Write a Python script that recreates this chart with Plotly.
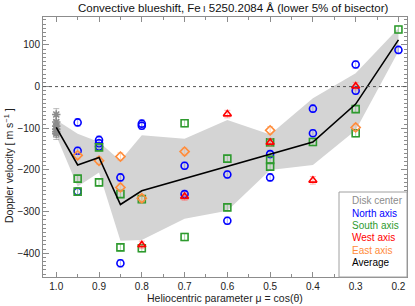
import plotly.graph_objects as go

# ---------------- data ----------------
mu_grid = [1.0, 0.95, 0.9, 0.85, 0.8, 0.7, 0.6, 0.5, 0.4, 0.3, 0.2]
band_upper = [-80, -113, -133, -178, -117, -125, -80, -115, -28, 32, 140]
band_lower = [-118, -240, -206, -370, -368, -317, -298, -200, -188, -105, 85]
average = [-98, -188, -170, -283, -250, -221, -192, -163, -133, -42, 112]

disk_mu = [1.0, 1.0, 1.0, 1.0, 1.0, 1.0]
disk_v = [-67, -85, -95, -102, -108, -113]

north_mu = [0.95, 0.95, 0.95, 0.9, 0.9, 0.9, 0.85, 0.85, 0.8, 0.8, 0.7, 0.7, 0.6, 0.6, 0.5, 0.5, 0.4, 0.4, 0.3, 0.3, 0.2]
north_v = [-86, -154, -252, -128, -136, -144, -218, -424, -89, -94, -190, -258, -211, -322, -162, -218, -53, -112, 53, -10, 88]

south_mu = [0.95, 0.95, 0.9, 0.9, 0.85, 0.85, 0.8, 0.8, 0.7, 0.7, 0.6, 0.6, 0.5, 0.5, 0.5, 0.4, 0.3, 0.3, 0.2]
south_v = [-221, -252, -146, -230, -258, -386, -270, -388, -88, -361, -173, -290, -134, -176, -192, -133, -54, -112, 137]

west_mu = [0.8, 0.7, 0.6, 0.5, 0.4, 0.3]
west_v = [-380, -264, -66, -134, -225, 1]

east_mu = [0.95, 0.9, 0.85, 0.85, 0.8, 0.7, 0.5, 0.3]
east_v = [-165, -178, -168, -242, -268, -156, -105, -98]

x_tickvals = [1.0, 0.9, 0.8, 0.7, 0.6, 0.5, 0.4, 0.3, 0.2]
y_tickvals = [-400, -300, -200, -100, 0, 100]
y_ticktext = ["\u2212400", "\u2212300", "\u2212200", "\u2212100", "0", "100"]

legend_names = ["Disk center", "North axis", "South axis", "West axis", "East axis", "Average"]

# ---------------- figure ----------------
FONT = "Liberation Sans, Arial, Helvetica, sans-serif"
GRAY = "#8c8c8c"
BLUE = "#0000ff"
GREEN = "#2e9a2e"
RED = "#ff0000"
ORANGE = "#ff8c3a"

W, H = 415, 306
L, R, T, B = 43, 8, 17, 29
PW, PH = W - L - R, H - T - B


def px(xp):
    return (xp - L) / PW


def py(yp):
    return (H - B - yp) / PH


fig = go.Figure()

fig.add_trace(go.Scatter(x=mu_grid, y=band_upper, mode="lines", line=dict(width=0),
                         showlegend=False, hoverinfo="skip"))
fig.add_trace(go.Scatter(x=mu_grid, y=band_lower, mode="lines", line=dict(width=0),
                         fill="tonexty", fillcolor="#d4d4d4", showlegend=False, hoverinfo="skip"))

series = [
    (disk_mu, disk_v, GRAY, "asterisk-open", "rgba(140,140,140,0.6)", 14),
    (north_mu, north_v, BLUE, "circle-open", "rgba(120,120,255,0.6)", 9),
    (south_mu, south_v, GREEN, "square-open", "rgba(120,200,120,0.6)", 9),
    (west_mu, west_v, RED, "triangle-up-open", "rgba(255,120,120,0.6)", 9),
    (east_mu, east_v, ORANGE, "diamond-open", "rgba(255,180,130,0.6)", 9),
]
for (x, y, color, symbol, ecol, err), name in zip(series, legend_names):
    fig.add_trace(go.Scatter(
        x=x, y=y, mode="markers", name=name, showlegend=False,
        marker=dict(symbol=symbol, size=7, color=color, line=dict(color=color, width=1.6)),
        error_y=dict(type="constant", value=err, color=ecol, thickness=1, width=3),
    ))

fig.add_trace(go.Scatter(x=mu_grid, y=average, mode="lines", name="Average", showlegend=False,
                         line=dict(color="black", width=1.6)))

fig.add_hline(y=0, line=dict(color="#555555", width=1, dash="dot"))

axis_common = dict(
    showline=True, linecolor=GRAY, linewidth=1, mirror="allticks",
    ticks="inside", tickcolor=GRAY, showgrid=False, zeroline=False, automargin=False,
    tickfont=dict(family=FONT, size=10, color="#222222"),
)

fig.update_xaxes(
    range=[1.031, 0.18], tickvals=x_tickvals, tickformat=".1f", ticklen=5,
    minor=dict(dtick=0.05, ticklen=3, ticks="inside", tickcolor=GRAY),
    **axis_common,
)
fig.update_yaxes(
    range=[-457, 167], tickvals=y_tickvals, ticktext=y_ticktext, ticklen=6,
    minor=dict(dtick=10, ticklen=3, ticks="inside", tickcolor=GRAY),
    **axis_common,
)

# pixel-coordinate overlay axes for the hand-drawn legend keys
fig.update_layout(
    xaxis2=dict(overlaying="x", range=[L, W - R], visible=False, fixedrange=True),
    yaxis2=dict(overlaying="y", range=[H - B, T], visible=False, fixedrange=True),
)

lx0, lx1, ly0, ly1 = 339, 407, 192, 277
fig.add_shape(type="rect", xref="paper", yref="paper", x0=px(lx0), x1=px(lx1), y0=py(ly1), y1=py(ly0),
              line=dict(color="#a0a0a0", width=1), fillcolor="white", layer="above")

row_y = [201, 213, 225, 237.5, 250, 262.5]
key_x = 347
for i, name in enumerate(legend_names):
    if i < 5:
        _, _, color, symbol, _, _ = series[i]
        fig.add_trace(go.Scatter(x=[key_x], y=[row_y[i]], xaxis="x2", yaxis="y2", mode="markers",
                                 showlegend=False, hoverinfo="skip",
                                 marker=dict(symbol=symbol, size=6, color=color,
                                             line=dict(color=color, width=1.3))))
    else:
        color = "black"
        fig.add_trace(go.Scatter(x=[key_x - 4, key_x + 5], y=[row_y[i], row_y[i]], xaxis="x2", yaxis="y2",
                                 mode="lines", showlegend=False, hoverinfo="skip",
                                 line=dict(color="black", width=1.6)))
    fig.add_annotation(x=px(352), y=py(row_y[i]), xref="paper", yref="paper", text=name, showarrow=False,
                       xanchor="left", yanchor="middle", xshift=-2,
                       font=dict(family=FONT, size=10, color=color))

# axis titles and title as annotations
fig.add_annotation(x=px(8), y=py(166), xref="paper", yref="paper",
                   text="Doppler velocity [ m s<sup>\u22121</sup> ]",
                   textangle=-90, showarrow=False, xanchor="center", yanchor="middle",
                   font=dict(family=FONT, size=10.5, color="#222222"))
fig.add_annotation(x=px((L + W - R) / 2), y=py(298), xref="paper", yref="paper",
                   text="Heliocentric parameter \u03bc = cos(\u03b8)",
                   showarrow=False, xanchor="center", yanchor="middle",
                   font=dict(family=FONT, size=10.5, color="#222222"))
fig.add_annotation(x=px(233), y=py(8), xref="paper", yref="paper",
                   text="Convective blueshift, Fe\u2009<span style='font-size:9px'>I</span> 5250.2084 \u00c5 (lower 5% of bisector)",
                   showarrow=False, xanchor="center", yanchor="middle",
                   font=dict(family=FONT, size=11.5, color="#111111"))

fig.update_layout(
    width=W, height=H,
    margin=dict(l=L, r=R, t=T, b=B, autoexpand=False),
    paper_bgcolor="white", plot_bgcolor="white",
    font=dict(family=FONT, size=10, color="#222222"),
    showlegend=False,
)

fig.write_html("out.html", config={"displayModeBar": False},
               post_script="document.body.style.margin='0px';")
